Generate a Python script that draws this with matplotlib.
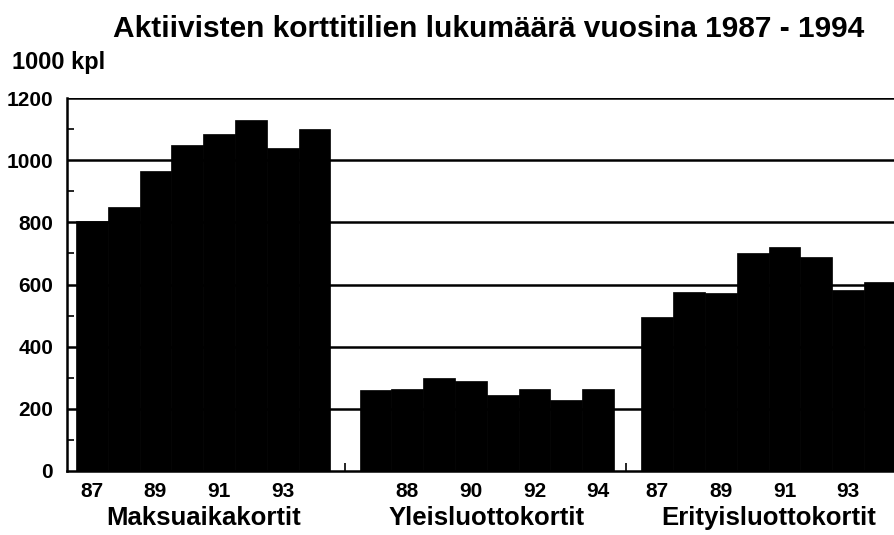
import matplotlib
matplotlib.use("Agg")
import matplotlib.pyplot as plt
from matplotlib.ticker import MultipleLocator

years = [87, 88, 89, 90, 91, 92, 93, 94]
groups = ["Maksuaikakortit", "Yleisluottokortit", "Erityisluottokortit"]
maksuaika = [805, 850, 965, 1050, 1085, 1130, 1040, 1100]
yleis = [262, 265, 300, 290, 243, 265, 228, 263]
erityis = [495, 575, 573, 700, 722, 688, 583, 608]
series = [maksuaika, yleis, erityis]
group_start = [0, 8.92, 17.78]
# which years get a label under each group
label_years = [[87, 89, 91, 93], [88, 90, 92, 94], [87, 89, 91, 93]]

plt.rcParams["font.family"] = ["Liberation Sans", "DejaVu Sans"]
plt.rcParams["font.weight"] = "bold"

fig = plt.figure(figsize=(8.94, 5.35), dpi=100)
ax = fig.add_axes([67 / 894, 64 / 535, 827 / 894, 373 / 535])

for y in range(200, 1201, 200):
    ax.axhline(y, color="black", lw=1.8, zorder=1)

xt, xl = [], []
for start, vals, labs in zip(group_start, series, label_years):
    xs = [start + i + 0.5 for i in range(len(vals))]
    ax.bar(xs, vals, width=1.0, color="black", edgecolor="black", lw=0.5, zorder=2)
    for x, yr in zip(xs, years):
        if yr in labs:
            xt.append(x)
            xl.append(str(yr))

ax.set_xlim(-0.28, 25.72)
ax.set_ylim(0, 1200)
ax.set_xticks(xt)
ax.set_xticklabels(xl, fontsize=15, fontweight="bold")
ax.tick_params(axis="x", length=0, pad=8)
ax.set_xticks([8.46, 17.28], minor=True)
ax.tick_params(axis="x", which="minor", direction="in", length=6, width=1.2)

ax.yaxis.set_major_locator(MultipleLocator(200))
ax.yaxis.set_minor_locator(MultipleLocator(100))
ax.tick_params(axis="y", which="both", direction="in", width=1.2, labelsize=15, pad=10)
ax.tick_params(axis="y", which="major", length=0)
ax.tick_params(axis="y", which="minor", length=5)
for lab in ax.get_yticklabels():
    lab.set_fontweight("bold")

for s in ["top", "right"]:
    ax.spines[s].set_visible(False)
ax.spines["left"].set_linewidth(1.8)
ax.spines["bottom"].set_linewidth(1.8)

for start, name in zip(group_start, groups):
    ax.text(start + 4, -0.095, name, transform=ax.get_xaxis_transform(),
            ha="center", va="top", fontsize=18.5, fontweight="bold")

fig.text(489 / 894, 1 - 29 / 535, "Aktiivisten korttitilien lukumäärä vuosina 1987 - 1994",
         ha="center", va="center", fontsize=21.5, fontweight="bold")
fig.text(12 / 894, 1 - 63 / 535, "1000 kpl", ha="left", va="center",
         fontsize=17, fontweight="bold")

fig.savefig("out.png", dpi=100)
